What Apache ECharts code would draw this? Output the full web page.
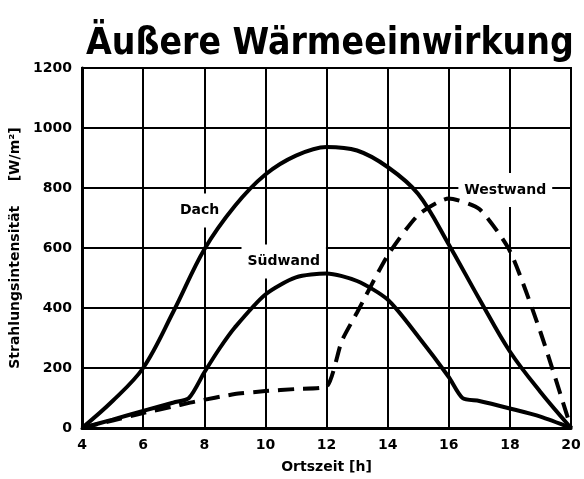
<!DOCTYPE html>
<html>
<head>
<meta charset="utf-8">
<script src="https://cdn.jsdelivr.net/npm/echarts@6/dist/echarts.min.js"></script>
<style>
    html, body { margin: 0; padding: 0; background: #fff; }
    #chart { width: 584px; height: 479px; }
</style>
</head>
<body>
<div id="chart"></div>
<script>
// Stunden und Werte je Kurve (W/m²)
const dachHours = [4, 5, 6, 7, 8, 9, 10, 11, 12, 13, 14, 15, 16, 17, 18, 19, 20];
const dachValues = [0, 90, 200, 390, 595, 740, 845, 908, 937, 925, 870, 780, 612, 430, 255, 120, 0];

const suedHours = [4, 5, 6, 7, 7.5, 8, 8.5, 9, 10, 11, 12, 13, 14, 15, 16, 16.45, 17, 18, 19, 20];
const suedValues = [0, 28, 57, 85, 100, 185, 265, 335, 445, 502, 515, 490, 428, 305, 170, 100, 90, 65, 38, 0];

const westHours = [4, 5, 6, 7, 7.7, 9, 10, 11, 12, 12.5, 13, 14, 15, 16, 17, 18, 19, 20];
const westValues = [0, 25, 50, 72, 88, 113, 123, 130, 138, 290, 385, 575, 710, 765, 730, 590, 320, 0];

// Beschriftungen der Kurven
const labelNames = ['Dach', 'Südwand', 'Westwand'];
const labelHours = [7.85, 10.6, 17.85];
const labelValues = [725, 555, 793];

const xTicks = {min: 4, max: 20, interval: 2};
const yTicks = {min: 0, max: 1200, interval: 200};

function zip (xs, ys) {
    return xs.map((x, i) => [x, ys[i]]);
}

let myChart = echarts.init(document.getElementById('chart'));
const font = 'DejaVu Sans';
myChart.setOption({
    animation: false,
    backgroundColor: '#fff',
    title: {
        text: 'Äußere Wärmeeinwirkung',
        left: 81,
        top: 21,
        textStyle: {
            fontFamily: 'DejaVu Sans Condensed, DejaVu Sans',
            fontWeight: 'bold',
            fontSize: 37,
            color: '#000'
        }
    },
    grid: {
        left: 82,
        right: 13,
        top: 68,
        bottom: 51,
        show: true,
        borderColor: '#000',
        borderWidth: 2,
        backgroundColor: 'transparent'
    },
    xAxis: {
        type: 'value',
        min: xTicks.min,
        max: xTicks.max,
        interval: xTicks.interval,
        name: 'Ortszeit [h]',
        nameLocation: 'middle',
        nameGap: 32,
        nameTextStyle: {fontFamily: font, fontWeight: 'bold', fontSize: 14, color: '#000'},
        axisLine: {show: true, lineStyle: {color: '#000', width: 3}},
        axisTick: {show: false},
        axisLabel: {fontFamily: font, fontWeight: 'bold', fontSize: 14, color: '#000', margin: 10},
        splitLine: {show: true, lineStyle: {color: '#000', width: 2}}
    },
    yAxis: {
        type: 'value',
        min: yTicks.min,
        max: yTicks.max,
        interval: yTicks.interval,
        name: 'Strahlungsintensität     [W/m²]',
        nameLocation: 'middle',
        nameGap: 48,
        nameTextStyle: {fontFamily: font, fontWeight: 'bold', fontSize: 14, color: '#000'},
        axisLine: {show: true, lineStyle: {color: '#000', width: 3}},
        axisTick: {show: false},
        axisLabel: {
            fontFamily: font, fontWeight: 'bold', fontSize: 14, color: '#000', margin: 10,
            formatter: (v) => String(v)
        },
        splitLine: {show: true, lineStyle: {color: '#000', width: 2}}
    },
    series: [
        {
            // Beschriftungen, unter den Kurven
            type: 'scatter',
            z: 1,
            symbolSize: 0,
            itemStyle: {opacity: 1},
            data: labelNames.map((n, i) => [labelHours[i], labelValues[i], n]),
            label: {
                show: true,
                position: 'inside',
                formatter: (p) => p.value[2],
                fontFamily: font,
                fontWeight: 'bold',
                fontSize: 14,
                color: '#000',
                textBorderWidth: 0,
                backgroundColor: '#fff',
                padding: [10, 6]
            },
            silent: true
        },
        {
            name: 'Dach',
            type: 'line',
            z: 3,
            smooth: 0.35,
            showSymbol: false,
            data: zip(dachHours, dachValues),
            lineStyle: {color: '#000', width: 4}
        },
        {
            name: 'Südwand',
            type: 'line',
            z: 3,
            smooth: 0.25,
            showSymbol: false,
            data: zip(suedHours, suedValues),
            lineStyle: {color: '#000', width: 4}
        },
        {
            name: 'Westwand',
            type: 'line',
            z: 3,
            smooth: 0.2,
            showSymbol: false,
            data: zip(westHours, westValues),
            lineStyle: {color: '#000', width: 4, type: [16, 9]}
        }
    ]
});
</script>
</body>
</html>
